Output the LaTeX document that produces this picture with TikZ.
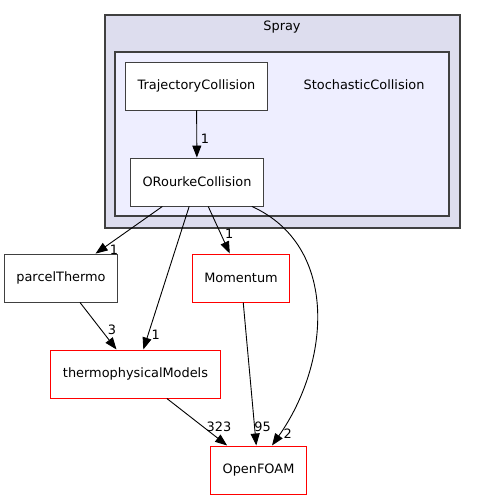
\documentclass[tikz,border=0pt]{standalone}
\usepackage{fontspec}
\setmainfont{DejaVu Sans}
\usetikzlibrary{arrows.meta}
\definecolor{spraygrey}{HTML}{DDDDEE}
\definecolor{stochblue}{HTML}{EEEEFF}
\definecolor{dirline}{HTML}{404040}

\begin{document}
\begin{tikzpicture}[x=1pt, y=-1pt,
  font=\fontsize{12.9}{15}\selectfont,
  cluster/.style={draw=dirline, line width=1.1pt},
  dirbox/.style={rectangle, draw=dirline, fill=white, line width=0.9pt,
    inner xsep=12pt, minimum height=48pt},
  extbox/.style={dirbox, draw=red, line width=1pt},
  dep/.style={-{Triangle[length=12pt, width=9pt]}, line width=0.9pt},
  count/.style={inner sep=0pt}
]
  \useasboundingbox (0,0) rectangle (476,500);

  % clusters
  \draw[cluster, fill=spraygrey] (105,15) rectangle (460,228);
  \draw[cluster, fill=stochblue] (115,52) rectangle (449,216);
  \node (spray) at (282,27) {Spray};
  \node (stochastic) at (364,85) {StochasticCollision};

  % directories
  \node[dirbox] (trajectory) at (196.5,86) {TrajectoryCollision};
  \node[dirbox] (orourke) at (197,182) {ORourkeCollision};
  \node[dirbox] (parcel) at (61,278) {parcelThermo};
  \node[extbox] (momentum) at (241,278) {Momentum};
  \node[extbox] (thermo) at (135.5,374) {thermophysicalModels};
  \node[extbox] (openfoam) at (258.5,470) {OpenFOAM};

  % dependencies
  \draw[dep] (trajectory) -- (orourke);
  \draw[dep] (orourke) -- (parcel);
  \draw[dep] (orourke) -- (thermo);
  \draw[dep] (orourke) -- (momentum);
  \draw[dep] ([xshift=-12pt]orourke.south east) .. controls +(88,40) and +(58,-82) ..
    ([xshift=13.5pt]openfoam.north);
  \draw[dep] (parcel) -- (thermo);
  \draw[dep] (momentum) -- (openfoam);
  \draw[dep] (thermo) -- (openfoam);

  \node[count] (c1) at (205,139) {1};
  \node[count] (c2) at (114,250) {1};
  \node[count] (c3) at (229.3,233.3) {1};
  \node[count] (c4) at (155.7,334.3) {1};
  \node[count] (c5) at (112,330) {3};
  \node[count] (c6) at (219,427) {323};
  \node[count] (c7) at (262.7,426.7) {95};
  \node[count] (c8) at (287.7,434) {2};
\end{tikzpicture}
\end{document}
